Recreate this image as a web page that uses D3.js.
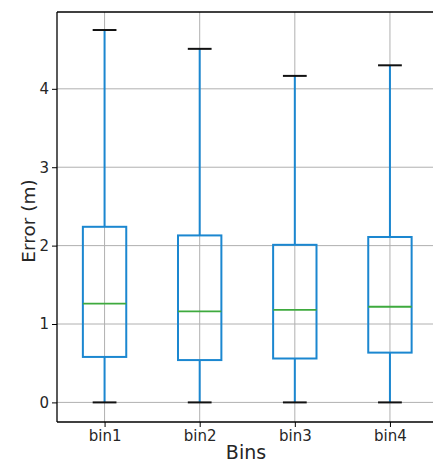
<!DOCTYPE html>
<html>
<head>
<meta charset="utf-8">
<script src="https://cdn.jsdelivr.net/npm/d3@7"></script>
<style>
  body { margin: 0; background: #fff; }
  text { font-family: "DejaVu Sans", sans-serif; fill: #262626; }
</style>
</head>
<body>
<svg id="chart" width="433" height="462"></svg>
<script>
// box statistics
var bins = ['bin1', 'bin2', 'bin3', 'bin4'];
var whiskLow = [0, 0, 0, 0];
var q1 = [0.58, 0.54, 0.56, 0.635];
var median = [1.26, 1.16, 1.18, 1.22];
var q3 = [2.24, 2.13, 2.01, 2.11];
var whiskHigh = [4.75, 4.51, 4.165, 4.30];
var yTicks = [0, 1, 2, 3, 4];

var svg = d3.select('#chart');

var plotLeft = 57, plotTop = 12, plotBottom = 422;
var plotRight = 437.5; // axis runs slightly past the picture edge

var boxBlue = '#1b87d0';
var medGreen = '#3eaa3e';

var x = d3.scaleLinear()
  .domain([0.5, 4.5])
  .range([plotLeft, plotRight]);

var y = d3.scaleLinear()
  .domain([-0.25, 4.98])
  .range([plotBottom, plotTop]);

var boxHalf = 0.228;
var capHalf = 0.125;

// grid
var grid = svg.append('g');
grid.selectAll('.hgrid')
  .data(yTicks)
  .enter().append('line')
  .attr('x1', plotLeft).attr('x2', 433)
  .attr('y1', function(d) { return y(d); })
  .attr('y2', function(d) { return y(d); })
  .attr('stroke', '#b0b0b0')
  .attr('stroke-width', 1);

grid.selectAll('.vgrid')
  .data(bins)
  .enter().append('line')
  .attr('x1', function(d, i) { return x(i + 1); })
  .attr('x2', function(d, i) { return x(i + 1); })
  .attr('y1', plotTop).attr('y2', plotBottom)
  .attr('stroke', '#b0b0b0')
  .attr('stroke-width', 1);

// boxes
var boxes = svg.selectAll('.box')
  .data(bins)
  .enter().append('g')
  .attr('class', 'box');

// lower whisker
boxes.append('line')
  .attr('x1', function(d, i) { return x(i + 1); })
  .attr('x2', function(d, i) { return x(i + 1); })
  .attr('y1', function(d, i) { return y(whiskLow[i]); })
  .attr('y2', function(d, i) { return y(q1[i]); })
  .attr('stroke', boxBlue)
  .attr('stroke-width', 2);

// upper whisker
boxes.append('line')
  .attr('x1', function(d, i) { return x(i + 1); })
  .attr('x2', function(d, i) { return x(i + 1); })
  .attr('y1', function(d, i) { return y(q3[i]); })
  .attr('y2', function(d, i) { return y(whiskHigh[i]); })
  .attr('stroke', boxBlue)
  .attr('stroke-width', 2);

boxes.append('rect')
  .attr('x', function(d, i) { return x(i + 1 - boxHalf); })
  .attr('width', function(d, i) { return x(i + 1 + boxHalf) - x(i + 1 - boxHalf); })
  .attr('y', function(d, i) { return y(q3[i]); })
  .attr('height', function(d, i) { return y(q1[i]) - y(q3[i]); })
  .attr('fill', 'none')
  .attr('stroke', boxBlue)
  .attr('stroke-width', 2);

boxes.append('line')
  .attr('x1', function(d, i) { return x(i + 1 - boxHalf); })
  .attr('x2', function(d, i) { return x(i + 1 + boxHalf); })
  .attr('y1', function(d, i) { return y(median[i]); })
  .attr('y2', function(d, i) { return y(median[i]); })
  .attr('stroke', medGreen)
  .attr('stroke-width', 1.8);

// caps
[whiskLow, whiskHigh].forEach(function(arr) {
  boxes.append('line')
    .attr('x1', function(d, i) { return x(i + 1 - capHalf); })
    .attr('x2', function(d, i) { return x(i + 1 + capHalf); })
    .attr('y1', function(d, i) { return y(arr[i]); })
    .attr('y2', function(d, i) { return y(arr[i]); })
    .attr('stroke', '#111')
    .attr('stroke-width', 2);
});

// axes
var yAxis = svg.append('g')
  .attr('transform', 'translate(' + plotLeft + ',0)')
  .call(d3.axisLeft(y).tickValues(yTicks).tickSize(5).tickPadding(3).tickFormat(d3.format('d')));

var xAxis = svg.append('g')
  .attr('transform', 'translate(0,' + plotBottom + ')')
  .call(d3.axisBottom(x).tickValues([1, 2, 3, 4]).tickSize(5).tickPadding(3)
    .tickFormat(function(d) { return bins[d - 1]; }));

[yAxis, xAxis].forEach(function(a) {
  a.select('.domain').remove();
  a.selectAll('.tick line').attr('stroke', '#000').attr('stroke-width', 1);
  a.selectAll('.tick text').style('font-size', '15px').attr('fill', '#262626');
});

// spines
svg.append('line').attr('x1', plotLeft).attr('x2', plotLeft).attr('y1', plotTop).attr('y2', plotBottom)
  .attr('stroke', '#000').attr('stroke-width', 1.3);
svg.append('line').attr('x1', plotLeft).attr('x2', 433).attr('y1', plotTop).attr('y2', plotTop)
  .attr('stroke', '#000').attr('stroke-width', 1.3);
svg.append('line').attr('x1', plotLeft).attr('x2', 433).attr('y1', plotBottom).attr('y2', plotBottom)
  .attr('stroke', '#000').attr('stroke-width', 1.3);

svg.append('text')
  .attr('x', 246).attr('y', 459)
  .attr('text-anchor', 'middle')
  .style('font-size', '19px')
  .text('Bins');

svg.append('text')
  .attr('transform', 'translate(35,' + 221 + ') rotate(-90)')
  .attr('text-anchor', 'middle')
  .style('font-size', '18.5px')
  .text('Error (m)');
</script>
</body>
</html>
